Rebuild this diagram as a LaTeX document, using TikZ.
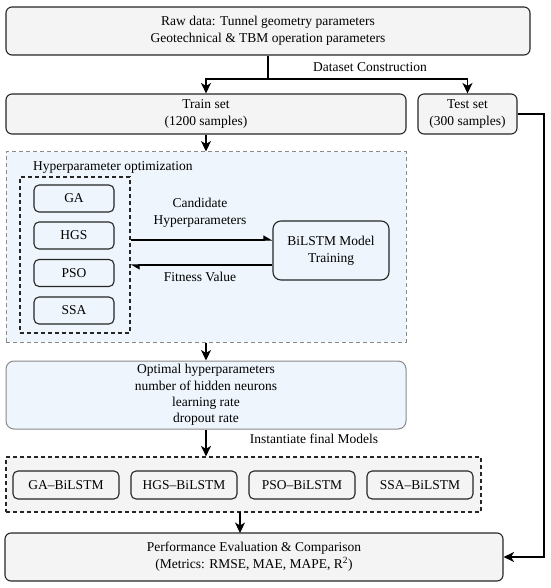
\documentclass[tikz,border=0pt]{standalone}
\usepackage{fontspec}
\setmainfont{Liberation Serif}
\usetikzlibrary{arrows.meta}
\definecolor{boxgray}{HTML}{F4F4F4}
\definecolor{lblue}{HTML}{EEF5FC}
\definecolor{edgegray}{HTML}{8A8A8A}
\begin{document}
\begin{tikzpicture}[x=1pt,y=-1pt,
  txt/.style={font=\fontsize{13.5}{17}\selectfont, align=center, inner sep=0pt},
  box/.style={txt, draw=black!85, line width=1.1pt, rounded corners=6pt, fill=boxgray},
  algbox/.style={txt, draw=black!85, line width=1.1pt, rounded corners=5pt, minimum width=80pt, minimum height=27pt},
  modbox/.style={txt, draw=black!85, line width=1.1pt, rounded corners=5pt, fill=boxgray, minimum width=106pt, minimum height=28pt},
  arr/.style={-{Stealth[length=10.5pt,width=10pt,inset=3pt]}, line width=1.2pt},
  harr/.style={-{Triangle[harpoon,length=8pt,width=9pt]}, line width=1.2pt},
  conn/.style={line width=1.2pt}]
\useasboundingbox (0,0) rectangle (550,588);
\fill[white] (0,0) rectangle (550,588);

% nodes
\node[box, minimum width=524pt, minimum height=48pt] (raw) at (268,31)
  {Raw data: Tunnel geometry parameters\\Geotechnical \& TBM operation parameters};
\node[box, minimum width=400pt, minimum height=40pt] (train) at (206,114)
  {Train set\\(1200 samples)};
\node[box, minimum width=99pt, minimum height=40pt] (test) at (467.5,114)
  {Test set\\(300 samples)};

\node[draw=edgegray, dashed, dash pattern=on 4pt off 3pt, line width=1pt, fill=lblue,
  minimum width=400pt, minimum height=190pt, inner sep=0pt] (hpo) at (206,247) {};
\node[txt, anchor=west] (hpolabel) at (33,167) {Hyperparameter optimization};
\node[draw=black!85, dashed, dash pattern=on 4pt off 3pt, line width=1.2pt,
  minimum width=110pt, minimum height=156pt, inner sep=0pt] (alg) at (75,255) {};
\node[algbox] (ga) at (74,198.5) {GA};
\node[algbox] (hgs) at (74,235.5) {HGS};
\node[algbox] (pso) at (74,273) {PSO};
\node[algbox] (ssa) at (74,310.5) {SSA};
\node[txt, draw=black!85, line width=1.1pt, rounded corners=8pt, minimum width=116pt, minimum height=59pt]
  (bilstm) at (331,250.5) {BiLSTM Model\\Training};
\node[txt] (candlabel) at (200,213) {Candidate\\Hyperparameters};
\node[txt] (fitlabel) at (200,277) {Fitness Value};

\node[txt, draw=edgegray, line width=1pt, rounded corners=8pt, fill=lblue,
  minimum width=400pt, minimum height=68pt, font=\fontsize{13.5}{16.3}\selectfont] (opt) at (206,395)
  {Optimal hyperparameters\\number of hidden neurons\\learning rate\\dropout rate};
\node[txt] (instlabel) at (314,439) {Instantiate final Models};

\node[draw=black!85, dashed, dash pattern=on 4pt off 3pt, line width=1.2pt, fill=boxgray,
  minimum width=475pt, minimum height=55pt, inner sep=0pt] (models) at (243.5,484.5) {};
\node[modbox] (m1) at (66,485) {GA--BiLSTM};
\node[modbox] (m2) at (184,485) {HGS--BiLSTM};
\node[modbox] (m3) at (302,485) {PSO--BiLSTM};
\node[modbox] (m4) at (420,485) {SSA--BiLSTM};

\node[box, minimum width=498pt, minimum height=48pt] (perf) at (254,557)
  {Performance Evaluation \& Comparison\\(Metrics: RMSE, MAE, MAPE, R\textsuperscript{2})};
\node[txt] (dslabel) at (370,67) {Dataset Construction};

% connectors
\coordinate (split) at (268,79);
\draw[conn] (raw.south) -- (split);
\draw[arr] (split) -| (train.north);
\draw[arr] (split) -| (test.north);
\draw[arr] (train.south) -- (hpo.north);
\draw[harr] (alg.east |- 0,240) -- (bilstm.west |- 0,240);
\draw[harr] (bilstm.west |- 0,265) -- (alg.east |- 0,265);
\draw[arr] (hpo.south) -- (opt.north);
\draw[arr] (opt.south) -- (opt.south |- models.north);
\draw[arr] (240,512) -- (240,533);
\coordinate (corner) at (544,114);
\draw[arr] (test.east) -- (corner) |- (perf.east);
\end{tikzpicture}
\end{document}
